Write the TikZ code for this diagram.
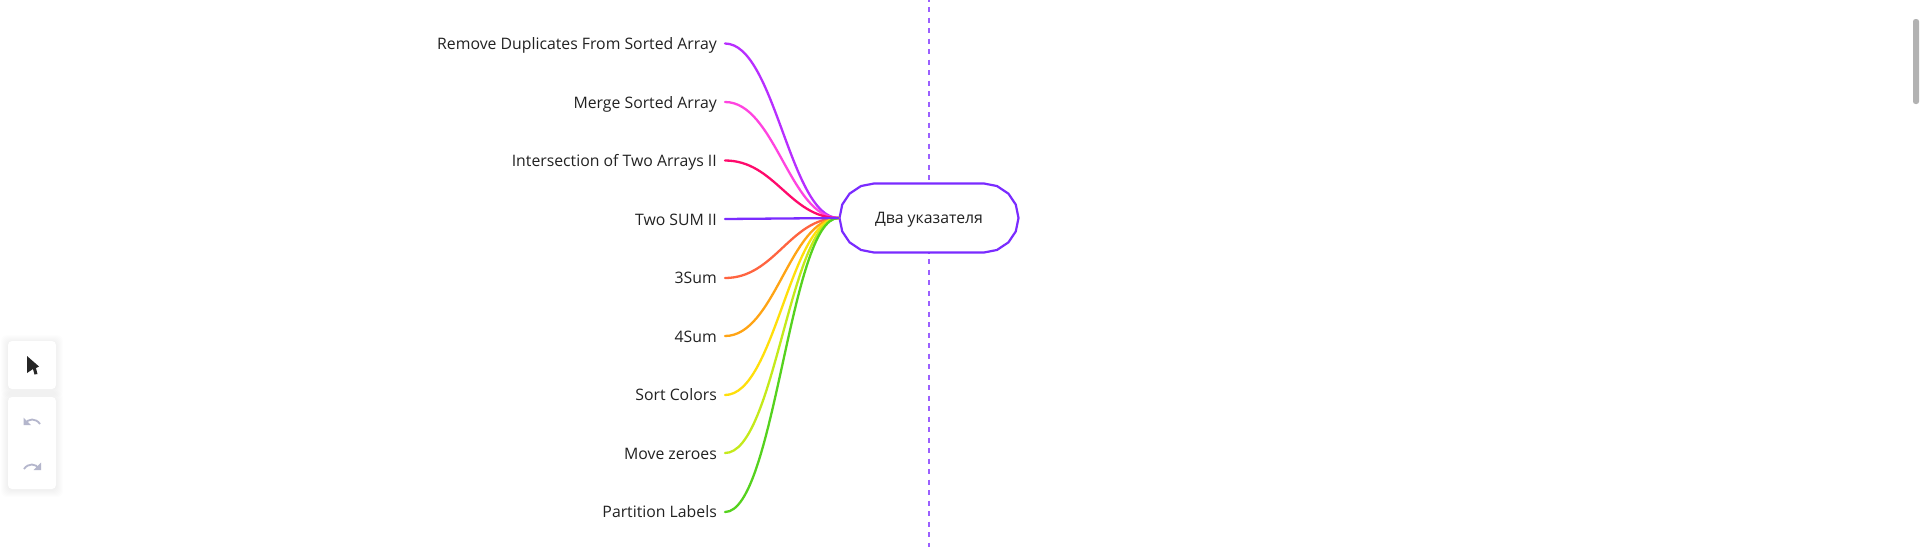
\documentclass[tikz,border=0pt]{standalone}
\usepackage{fontspec}
\usetikzlibrary{calc}
\setmainfont{Open Sans}
\definecolor{txt}{HTML}{222222}
\definecolor{cA}{HTML}{B82EFF}
\definecolor{cB}{HTML}{FF44E0}
\definecolor{cC}{HTML}{FF0A6C}
\definecolor{cD}{HTML}{7A2BFF}
\definecolor{cE}{HTML}{FF6440}
\definecolor{cF}{HTML}{FFA414}
\definecolor{cG}{HTML}{FFDF0A}
\definecolor{cH}{HTML}{C4EA1A}
\definecolor{cI}{HTML}{55D21E}
\definecolor{tool}{HTML}{B4B6CC}
\tikzset{
  lbl/.style={anchor=base east,inner sep=0pt,text=txt,font=\fontsize{15.8}{18}\selectfont},
  lnk/.style={line width=2.3pt,line cap=round},
  halo/.style={rounded corners=6pt,fill=black,fill opacity=.006},
  panel/.style={fill=white,rounded corners=4pt},
}
\begin{document}
\begin{tikzpicture}[x=1pt,y=-1pt]
\useasboundingbox (0,0) rectangle (1920,547);
\fill[white] (0,0) rectangle (1920,547);
\coordinate (dt) at (929,0);
\coordinate (db) at (929,547);
\draw[cD!75,line width=1.5pt,dash pattern=on 5pt off 5.5pt,dash phase=3.5pt] (dt) -- (db);
% faceted pill outline
\draw[cD,fill=white,line width=2.2pt,line join=round]
  (874,183.5) \foreach \t in {248,225,203,180,157,135,112,90} { -- ($(874,218)+(\t:34.5)$) }
  \foreach \t in {90,68,45,23,0,-23,-45,-68,-90} { -- ($(984,218)+(\t:34.5)$) } -- cycle;
\node[minimum width=180pt,minimum height=70pt,inner sep=0pt,font=\fontsize{15.8}{18}\selectfont,text=txt] (root) at (929,219.5) {Два указателя};
\node[lbl] (n1) at (717,49) {Remove Duplicates From Sorted Array};
\node[lbl] (n2) at (717,108) {Merge Sorted Array};
\node[lbl] (n3) at (717,166.5) {Intersection of Two Arrays II};
\node[lbl] (n4) at (717,225) {Two SUM II};
\node[lbl] (n5) at (717,283.5) {3Sum};
\node[lbl] (n6) at (717,342) {4Sum};
\node[lbl] (n7) at (717,400.5) {Sort Colors};
\node[lbl] (n8) at (717,459) {Move zeroes};
\node[lbl] (n9) at (717,517.5) {Partition Labels};
\coordinate (hub) at (838.5,218);
\coordinate (s1) at (725,43.5);
\coordinate (s2) at (725,102);
\coordinate (s3) at (725,160.5);
\coordinate (s4) at (725,219);
\coordinate (s5) at (725,278);
\coordinate (s6) at (725,336);
\coordinate (s7) at (725,395);
\coordinate (s8) at (725,453);
\coordinate (s9) at (725,512);
\foreach \n/\y/\c in {1/43.5/cA,2/102/cB,3/160.5/cC,5/278/cE,6/336/cF,7/395/cG,8/453/cH,9/512/cI}{
  \draw[lnk,\c] (s\n) .. controls (775,\y) and (790,218) .. (hub);
}
\draw[lnk,cD] (s4) -- (hub);
\foreach \g in {1,2,...,7}{
  \fill[halo] (8-\g,341-\g+1) rectangle (56+\g,389+\g+1);
  \fill[halo] (8-\g,397-\g+1) rectangle (56+\g,489+\g+1);
}
\node[panel,minimum width=48pt,minimum height=48pt,inner sep=0pt] (p1) at (32,365) {};
\node[panel,minimum width=48pt,minimum height=92pt,inner sep=0pt] (p2) at (32,443) {};
\fill[black!85] (27,356) -- (39,366.5) -- (36,368) -- (37.5,374) -- (34.5,374.5) -- (33,369) -- (27,373) -- cycle;
\draw[tool,line width=1.8pt] (25,424) .. controls (28,418) and (36,418) .. (40,424);
\fill[tool] (23.5,417.5) -- (23.5,425) -- (31,425) -- cycle;
\draw[tool,line width=1.8pt] (24,469) .. controls (28,463) and (36,463) .. (39,469);
\fill[tool] (41,462.5) -- (41,470) -- (33.5,470) -- cycle;
\fill[black!30,rounded corners=2.5pt] (1913,19) rectangle (1919,104);
\end{tikzpicture}
\end{document}
